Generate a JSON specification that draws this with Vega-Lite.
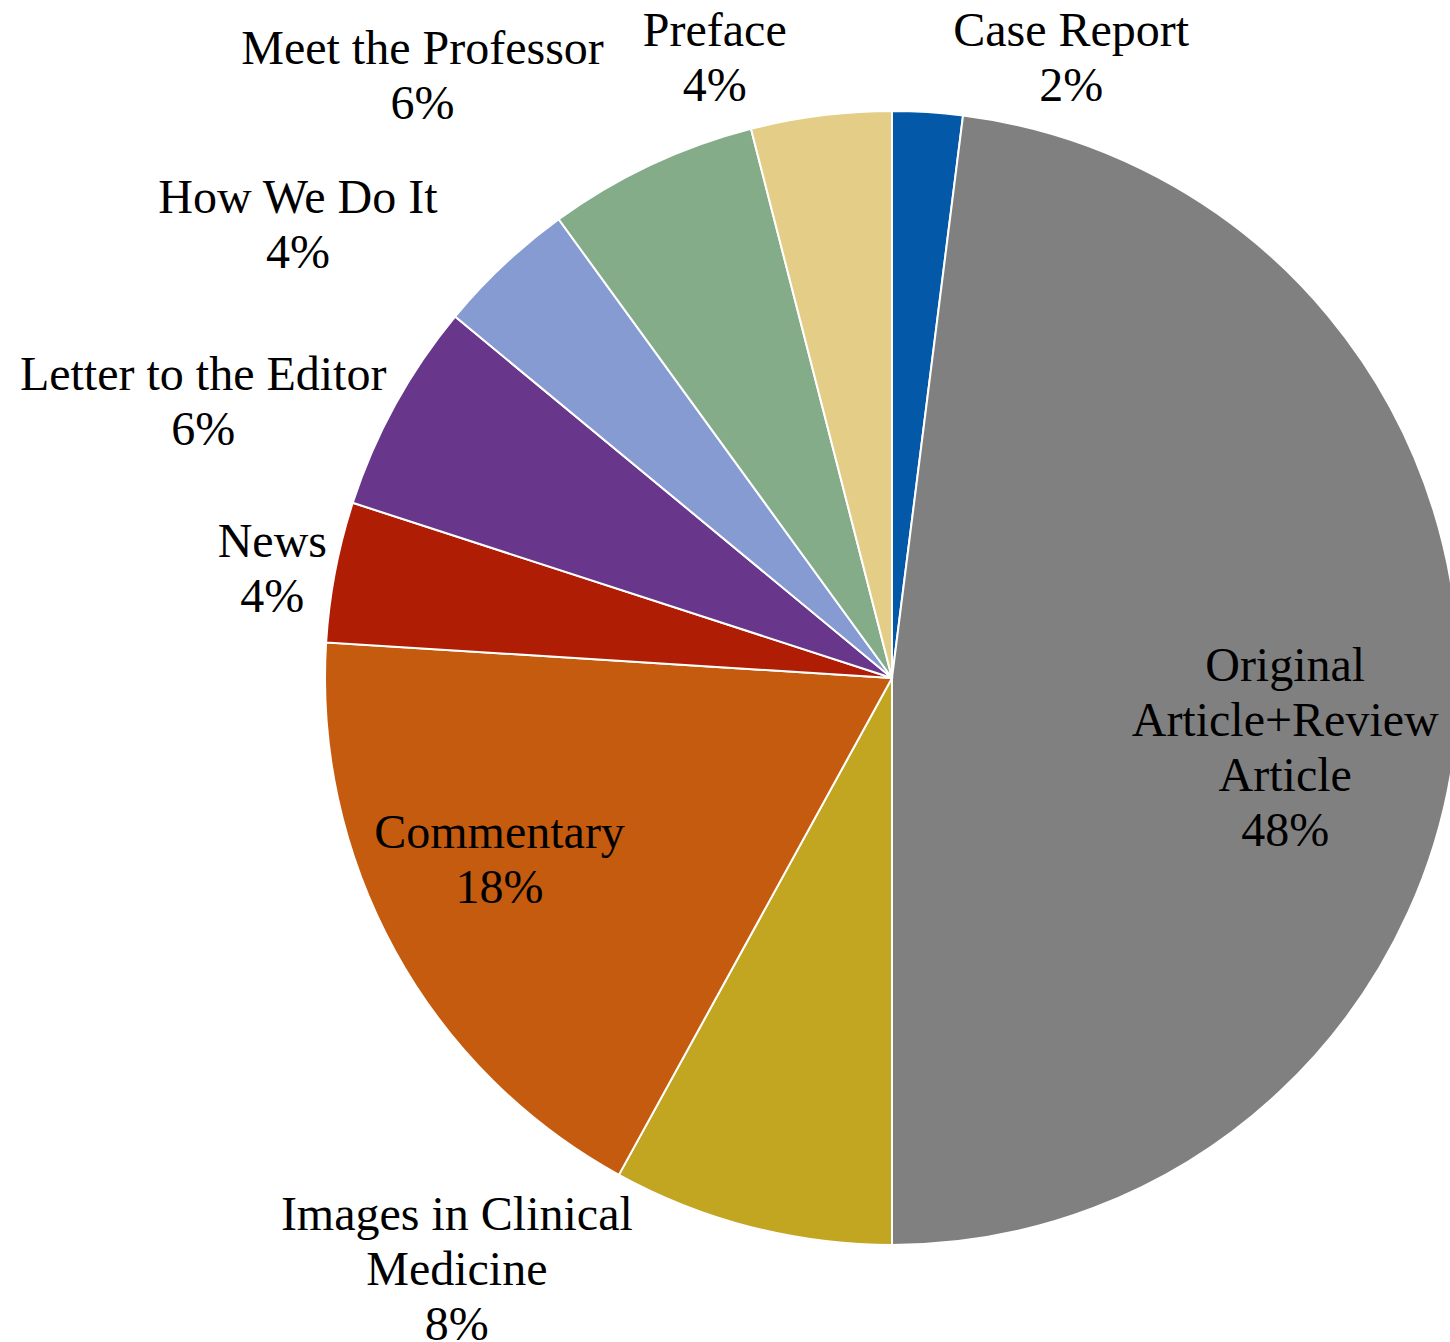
{
  "$schema": "https://vega.github.io/schema/vega-lite/v6.json",
  "width": 1116,
  "height": 1328,
  "padding": {"left": 334, "top": 14, "right": 0, "bottom": 0},
  "autosize": {"type": "none"},
  "background": "white",
  "config": {"view": {"stroke": null}},
  "data": {
    "values": [
      {"name": "Case Report", "pct": 2, "label": "Case Report\n2%"},
      {"name": "Original Article+Review Article", "pct": 48, "label": "Original\nArticle+Review\nArticle\n48%"},
      {"name": "Images in Clinical Medicine", "pct": 8, "label": "Images in Clinical\nMedicine\n8%"},
      {"name": "Commentary", "pct": 18, "label": "Commentary\n18%"},
      {"name": "News", "pct": 4, "label": "News\n4%"},
      {"name": "Letter to the Editor", "pct": 6, "label": "Letter to the Editor\n6%"},
      {"name": "How We Do It", "pct": 4, "label": "How We Do It\n4%"},
      {"name": "Meet the Professor", "pct": 6, "label": "Meet the Professor\n6%"},
      {"name": "Preface", "pct": 4, "label": "Preface\n4%"}
    ]
  },
  "transform": [{"window": [{"op": "row_number", "as": "rank"}]}],
  "encoding": {
    "theta": {"field": "pct", "type": "quantitative", "stack": true},
    "order": {"field": "rank", "type": "quantitative"}
  },
  "layer": [
    {
      "mark": {"type": "arc", "outerRadius": 567, "stroke": "white", "strokeWidth": 2},
      "encoding": {
        "color": {
          "field": "name",
          "type": "nominal",
          "legend": null,
          "scale": {
            "domain": ["Case Report", "Original Article+Review Article", "Images in Clinical Medicine", "Commentary", "News", "Letter to the Editor", "How We Do It", "Meet the Professor", "Preface"],
            "range": ["#0458A8", "#808080", "#C2A521", "#C55B0E", "#AF1D05", "#68368A", "#859BD1", "#84AC88", "#E4CD87"]
          }
        }
      }
    },
    {
      "mark": {"type": "text", "radius": 640, "dx": 139, "dy": -7, "font": "Liberation Serif", "fontSize": 48, "lineHeight": 55, "lineBreak": "\n", "align": "center", "baseline": "middle", "color": "black"},
      "encoding": {"text": {"condition": {"test": "datum.name === 'Case Report'", "field": "label", "type": "nominal"}, "value": ""}}
    },
    {
      "mark": {"type": "text", "radius": 400, "dx": -6, "dy": -36, "font": "Liberation Serif", "fontSize": 48, "lineHeight": 55, "lineBreak": "\n", "align": "center", "baseline": "middle", "color": "black"},
      "encoding": {"text": {"condition": {"test": "datum.name === 'Original Article+Review Article'", "field": "label", "type": "nominal"}, "value": ""}}
    },
    {
      "mark": {"type": "text", "radius": 640, "dx": -276, "dy": -82, "font": "Liberation Serif", "fontSize": 48, "lineHeight": 55, "lineBreak": "\n", "align": "center", "baseline": "middle", "color": "black"},
      "encoding": {"text": {"condition": {"test": "datum.name === 'Images in Clinical Medicine'", "field": "label", "type": "nominal"}, "value": ""}}
    },
    {
      "mark": {"type": "text", "radius": 433, "dx": -13, "dy": -53, "font": "Liberation Serif", "fontSize": 48, "lineHeight": 55, "lineBreak": "\n", "align": "center", "baseline": "middle", "color": "black"},
      "encoding": {"text": {"condition": {"test": "datum.name === 'Commentary'", "field": "label", "type": "nominal"}, "value": ""}}
    },
    {
      "mark": {"type": "text", "radius": 640, "dx": 9, "dy": -15, "font": "Liberation Serif", "fontSize": 48, "lineHeight": 55, "lineBreak": "\n", "align": "center", "baseline": "middle", "color": "black"},
      "encoding": {"text": {"condition": {"test": "datum.name === 'News'", "field": "label", "type": "nominal"}, "value": ""}}
    },
    {
      "mark": {"type": "text", "radius": 640, "dx": -128, "dy": 6, "font": "Liberation Serif", "fontSize": 48, "lineHeight": 55, "lineBreak": "\n", "align": "center", "baseline": "middle", "color": "black"},
      "encoding": {"text": {"condition": {"test": "datum.name === 'Letter to the Editor'", "field": "label", "type": "nominal"}, "value": ""}}
    },
    {
      "mark": {"type": "text", "radius": 640, "dx": -156, "dy": -12, "font": "Liberation Serif", "fontSize": 48, "lineHeight": 55, "lineBreak": "\n", "align": "center", "baseline": "middle", "color": "black"},
      "encoding": {"text": {"condition": {"test": "datum.name === 'How We Do It'", "field": "label", "type": "nominal"}, "value": ""}}
    },
    {
      "mark": {"type": "text", "radius": 640, "dx": -197, "dy": -49, "font": "Liberation Serif", "fontSize": 48, "lineHeight": 55, "lineBreak": "\n", "align": "center", "baseline": "middle", "color": "black"},
      "encoding": {"text": {"condition": {"test": "datum.name === 'Meet the Professor'", "field": "label", "type": "nominal"}, "value": ""}}
    },
    {
      "mark": {"type": "text", "radius": 640, "dx": -97, "dy": -11, "font": "Liberation Serif", "fontSize": 48, "lineHeight": 55, "lineBreak": "\n", "align": "center", "baseline": "middle", "color": "black"},
      "encoding": {"text": {"condition": {"test": "datum.name === 'Preface'", "field": "label", "type": "nominal"}, "value": ""}}
    }
  ]
}
